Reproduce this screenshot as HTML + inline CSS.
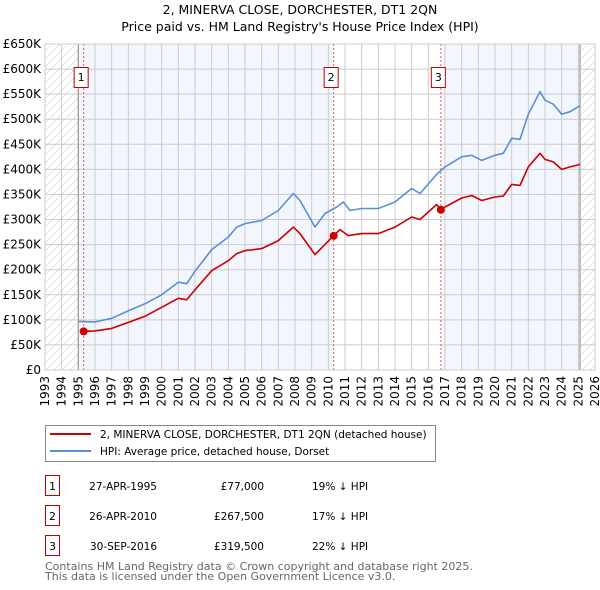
<!DOCTYPE html>
<html><head><meta charset="utf-8">
<style>
body{margin:0;background:#fff;font-family:"DejaVu Sans","Liberation Sans",sans-serif;}
#wrap{position:relative;width:600px;height:590px;overflow:hidden;}
svg text{font-family:"DejaVu Sans","Liberation Sans",sans-serif;}
</style></head>
<body>
<div id="wrap">
<svg id="chart" width="600" height="590"></svg>
</div>
<script>
const hpiYears=[1995.0,1996,1997,1998,1999,2000,2001,2001.5,2002,2003,2004,2004.5,2005,2006,2007,2007.9,2008.3,2009.2,2009.8,2010.5,2010.9,2011.3,2012,2013,2014,2015,2015.5,2016.5,2017,2018,2018.6,2019.2,2020,2020.5,2021,2021.5,2022,2022.7,2023,2023.5,2024,2024.5,2025.1];
const hpiValues=[97,96,103,118,132,150,175,172,197,240,265,285,292,298,318,352,338,285,312,325,335,318,322,322,335,362,352,390,405,425,428,418,428,432,462,460,510,555,538,530,510,515,527];
const redYears=[1995.3,1996,1997,1998,1999,2000,2001,2001.5,2002,2003,2004,2004.5,2005,2006,2007,2007.9,2008.3,2009.2,2010.3,2010.7,2011.2,2012,2013,2014,2015,2015.5,2016.5,2016.75,2017,2018,2018.6,2019.2,2020,2020.5,2021,2021.5,2022,2022.7,2023,2023.5,2024,2024.5,2025.1];
const redValues=[77,78,83,95,107,125,143,140,160,198,218,232,238,242,258,285,272,230,267,280,268,272,272,285,305,300,330,319.5,325,343,348,338,345,347,370,368,405,432,420,415,400,405,410];
const saleYears=[1995.32,2010.32,2016.75];
const saleValues=[77,267.5,319.5];
const saleLabels=["1","2","3"];
const yTicks=[0,50,100,150,200,250,300,350,400,450,500,550,600,650];
const yTickLabels=["£0","£50K","£100K","£150K","£200K","£250K","£300K","£350K","£400K","£450K","£500K","£550K","£600K","£650K"];
const xTicks=[1993,1994,1995,1996,1997,1998,1999,2000,2001,2002,2003,2004,2005,2006,2007,2008,2009,2010,2011,2012,2013,2014,2015,2016,2017,2018,2019,2020,2021,2022,2023,2024,2025,2026];

const NS="http://www.w3.org/2000/svg";
const svg=document.getElementById('chart');
const L=45,R=595,T=44,B=370;
const x=v=>L+(v-1993)/(2026-1993)*(R-L);
const y=v=>B-v/650*(B-T);
function mk(tag,attrs,parent){const e=document.createElementNS(NS,tag);for(const k in attrs)e.setAttribute(k,attrs[k]);(parent||svg).appendChild(e);return e;}

const defs=mk('defs',{});
const pat=mk('pattern',{id:'hatch',width:8,height:8,patternUnits:'userSpaceOnUse'},defs);
mk('path',{d:'M-1,9 L9,-1',stroke:'#d8d8d8','stroke-width':0.7},pat);

let t=mk('text',{x:300,y:14,'text-anchor':'middle','font-size':12.5,fill:'#000'});t.textContent="2, MINERVA CLOSE, DORCHESTER, DT1 2QN";

t=mk('text',{x:300,y:31,'text-anchor':'middle','font-size':12.5,fill:'#000'});t.textContent="Price paid vs. HM Land Registry's House Price Index (HPI)";


let r=mk('rect',{x:L,y:T,width:x(1995)-L,height:B-T,fill:'url(#hatch)'});

r=mk('rect',{x:x(1995),y:T,width:x(saleYears[1])-x(1995),height:B-T,fill:'#f3f6fd'});

r=mk('rect',{x:x(saleYears[2]),y:T,width:x(2025.1)-x(saleYears[2]),height:B-T,fill:'#f3f6fd'});

r=mk('rect',{x:x(2025.1),y:T,width:R-x(2025.1),height:B-T,fill:'url(#hatch)'});


const grid=mk('g',{stroke:'#cccccc','stroke-width':1});

yTicks.forEach((v,i)=>{
  mk('line',{x1:L,x2:R,y1:y(v),y2:y(v)},grid);
  const tt=mk('text',{x:L-4,y:y(v)+4,'text-anchor':'end','font-size':12,fill:'#000'});
  tt.textContent=yTickLabels[i];
  
});
xTicks.forEach(v=>{
  mk('line',{x1:x(v),x2:x(v),y1:T,y2:B},grid);
  const tt=mk('text',{'text-anchor':'end','font-size':12,fill:'#000',transform:`translate(${x(v)+4},${B+6}) rotate(-90)`});
  tt.textContent=v;
  
});
mk('line',{x1:x(1995),x2:x(1995),y1:T,y2:B,stroke:'#999','stroke-width':1.2});
mk('line',{x1:x(2025.1),x2:x(2025.1),y1:T,y2:B,stroke:'#999','stroke-width':1.2});

saleYears.forEach((yr,i)=>{
  const l=mk('line',{x1:x(yr),x2:x(yr),y1:T,y2:B,stroke:'#e06060','stroke-width':1,'stroke-dasharray':'2,2'});
  
  const g=mk('g',{});
  
  mk('rect',{x:x(yr)-9.5,y:67.5,width:14,height:20,fill:'#fff',stroke:'#c00000','stroke-width':1},g);
  const tt=mk('text',{x:x(yr)-2.5,y:81,'text-anchor':'middle','font-size':11,fill:'#000'},g);tt.textContent=saleLabels[i];
});

function line(xs,vs,color,name){
  const d=xs.map((a,i)=>(i?'L':'M')+x(a).toFixed(1)+','+y(vs[i]).toFixed(1)).join(' ');
  const p=mk('path',{d:d,fill:'none',stroke:color,'stroke-width':1.6,'stroke-linejoin':'round'});
  
}
line(hpiYears,hpiValues,'#5b8fd4','hpi-line');
line(redYears,redValues,'#cc0000','price-paid-line');
saleYears.forEach((yr,i)=>{
  const c=mk('circle',{cx:x(yr),cy:y(saleValues[i]),r:4,fill:'#cc0000'});
  
});
mk('rect',{x:L,y:T,width:R-L,height:B-T,fill:'none',stroke:'#ccc'});

const lg=mk('g',{});

mk('rect',{x:45.5,y:425.5,width:390,height:36,fill:'#fff',stroke:'#888'},lg);
mk('line',{x1:50,x2:91,y1:434,y2:434,stroke:'#cc0000','stroke-width':2},lg);
mk('line',{x1:50,x2:91,y1:451,y2:451,stroke:'#5b8fd4','stroke-width':2},lg);
t=mk('text',{x:100,y:438,'font-size':10.5,fill:'#000'},lg);t.textContent="2, MINERVA CLOSE, DORCHESTER, DT1 2QN (detached house)";

t=mk('text',{x:100,y:455,'font-size':10.5,fill:'#000'},lg);t.textContent="HPI: Average price, detached house, Dorset";


const rows=[["1","27-APR-1995","£77,000","19% ↓ HPI"],["2","26-APR-2010","£267,500","17% ↓ HPI"],["3","30-SEP-2016","£319,500","22% ↓ HPI"]];
const rowY=[487,517,547];
rows.forEach((rw,i)=>{
  const g=mk('g',{});
  
  mk('rect',{x:45.5,y:rowY[i]-11.5,width:14,height:20,fill:'#fff',stroke:'#c00000'},g);
  let a=mk('text',{x:52.5,y:rowY[i]+3,'text-anchor':'middle','font-size':11,fill:'#000'},g);a.textContent=rw[0];
  a=mk('text',{x:157,y:rowY[i]+3,'text-anchor':'end','font-size':10.5,fill:'#000'},g);a.textContent=rw[1];
  a=mk('text',{x:264,y:rowY[i]+3,'text-anchor':'end','font-size':10.5,fill:'#000'},g);a.textContent=rw[2];
  a=mk('text',{x:312,y:rowY[i]+3,'font-size':10.5,fill:'#000'},g);a.textContent=rw[3];
});
t=mk('text',{x:45,y:570,'font-size':11,fill:'#666'});t.textContent="Contains HM Land Registry data © Crown copyright and database right 2025.";

t=mk('text',{x:45,y:580,'font-size':11,fill:'#666'});t.textContent="This data is licensed under the Open Government Licence v3.0.";

</script>
</body></html>
